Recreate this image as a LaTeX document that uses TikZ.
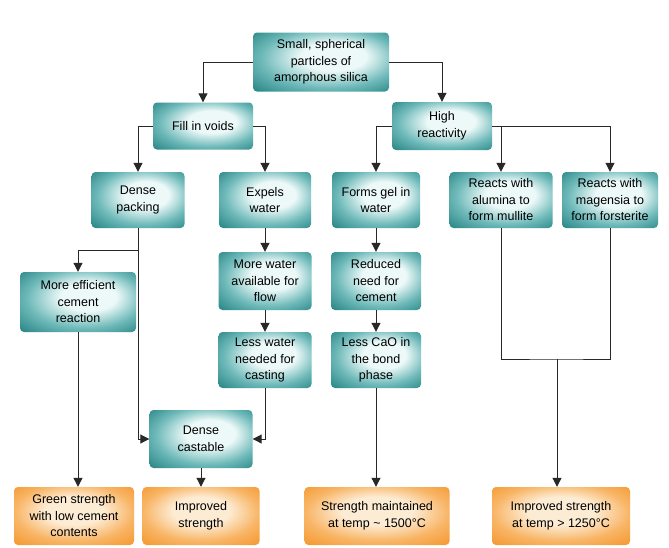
\documentclass[tikz,border=0pt]{standalone}
\usepackage{fontspec}
\setmainfont{Liberation Sans}
\usetikzlibrary{arrows.meta,shadings}
\definecolor{tealdark}{RGB}{30,125,125}
\definecolor{tealmid}{RGB}{110,185,185}
\definecolor{teallight}{RGB}{236,249,248}
\definecolor{orgdark}{RGB}{244,145,35}
\definecolor{orgmid}{RGB}{248,180,100}
\definecolor{orglight}{RGB}{253,236,212}
\definecolor{linecol}{RGB}{40,40,40}
\pgfdeclareradialshading{tealshade}{\pgfpoint{6bp}{6bp}}{%
  color(0bp)=(teallight); color(12bp)=(teallight); color(25bp)=(tealmid); color(39bp)=(tealdark); color(50bp)=(tealdark)}
\pgfdeclareradialshading{orgshade}{\pgfpoint{0bp}{6bp}}{%
  color(0bp)=(orglight); color(12bp)=(orglight); color(25bp)=(orgmid); color(39bp)=(orgdark); color(50bp)=(orgdark)}
\tikzset{
  tbox/.style={rounded corners=4pt, shading=tealshade, shade,
    align=center, inner sep=1pt, font=\fontsize{12.5}{16.5}\selectfont, text=black},
  obox/.style={rounded corners=4pt, shading=orgshade, shade,
    align=center, inner sep=1pt, font=\fontsize{12.5}{16.5}\selectfont, text=black},
  conn/.style={draw=linecol, line width=1pt},
  arr/.style={conn, -{Triangle[length=9pt,width=9pt]}},
}
\begin{document}
\begin{tikzpicture}[x=1pt,y=1pt]
\useasboundingbox (0,0) rectangle (669,-547);
\fill[white] (0,0) rectangle (669,-547);

\node[tbox, minimum width=136, minimum height=59] (top) at (321,-62) {Small, spherical\\particles of\\amorphous silica};
\node[tbox, minimum width=100, minimum height=47] (fill) at (203,-126) {Fill in voids};
\node[tbox, minimum width=100, minimum height=48] (high) at (442,-126) {High\\reactivity};

\node[tbox, minimum width=93, minimum height=56] (dense) at (138,-200) {Dense\\packing};
\node[tbox, minimum width=92, minimum height=56] (expels) at (265,-200) {Expels\\water};
\node[tbox, minimum width=88, minimum height=56] (gel) at (376,-200) {Forms gel in\\water};
\node[tbox, minimum width=103, minimum height=56] (alum) at (501,-200) {Reacts with\\alumina to\\form mullite};
\node[tbox, minimum width=96, minimum height=56] (mag) at (610,-200) {Reacts with\\magensia to\\form forsterite};

\node[tbox, minimum width=116, minimum height=60] (eff) at (78,-302) {More efficient\\cement\\reaction};
\node[tbox, minimum width=93, minimum height=58] (morew) at (265,-281) {More water\\available for\\flow};
\node[tbox, minimum width=90, minimum height=58] (reduced) at (376,-281) {Reduced\\need for\\cement};
\node[tbox, minimum width=93, minimum height=56] (lessw) at (265,-360) {Less water\\needed for\\casting};
\node[tbox, minimum width=90, minimum height=56] (cao) at (376,-360) {Less CaO in\\the bond\\phase};
\node[tbox, minimum width=103, minimum height=58] (castable) at (201,-439) {Dense\\castable};

\node[obox, minimum width=120, minimum height=58] (green) at (74,-516) {Green strength\\with low cement\\contents};
\node[obox, minimum width=117, minimum height=58] (impr) at (201,-516) {Improved\\strength};
\node[obox, minimum width=145, minimum height=58] (maint) at (377,-516) {Strength maintained\\at temp \textasciitilde{} 1500°C};
\node[obox, minimum width=138, minimum height=58] (imp2) at (561,-516) {Improved strength\\at temp > 1250°C};

\coordinate (split) at (138,-250);
\coordinate (join) at (557,-359);

\draw[arr] (top.west) -| (fill.north);
\draw[arr] (top.east) -| (high.north);
\draw[arr] (fill.west) -| (dense.north);
\draw[arr] (fill.east) -| (expels.north);
\draw[arr] (high.west) -| (gel.north);
\draw[arr] (high.east) -| (mag.north);
\draw[arr] (high.east -| alum.north) -- (alum.north);

\draw[arr] (dense.south) |- (castable.west);
\draw[arr] (split) -| (eff.north);
\draw[arr] (eff.south) -- (eff.south |- green.north);

\draw[arr] (expels.south) -- (morew.north);
\draw[arr] (morew.south) -- (lessw.north);
\draw[arr] (lessw.south) |- (castable.east);
\draw[arr] (castable.south) -- (impr.north);

\draw[arr] (gel.south) -- (reduced.north);
\draw[arr] (reduced.south) -- (cao.north);
\draw[arr] (cao.south) -- (cao.south |- maint.north);

\draw[conn] (alum.south) |- (join) -| (mag.south);
\draw[arr] (join) -- (join |- imp2.north);
\end{tikzpicture}
\end{document}
